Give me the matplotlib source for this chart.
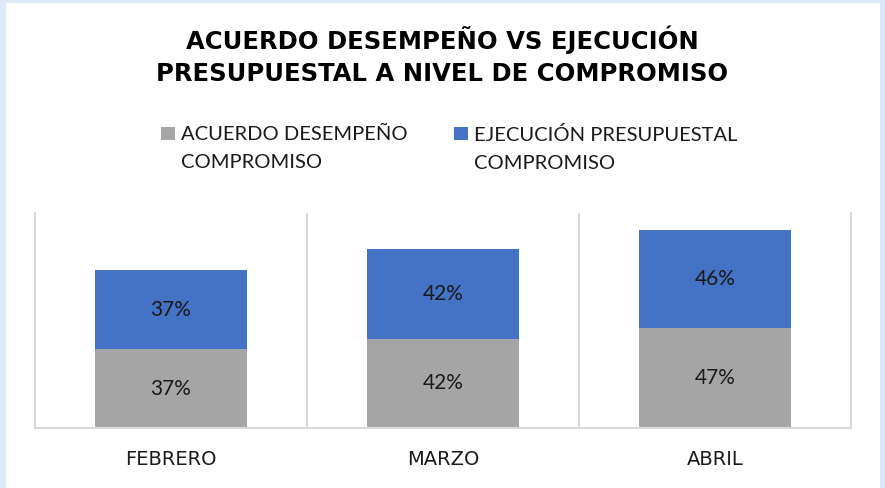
import numpy as np
import matplotlib.pyplot as plt
from matplotlib.patches import Rectangle

plt.rcParams['font.family'] = ['Lato', 'DejaVu Sans']

meses = ['FEBRERO', 'MARZO', 'ABRIL']
acuerdo = [37, 42, 47]
ejecucion = [37, 42, 46]
series_labels = ['ACUERDO DESEMPEÑO\nCOMPROMISO', 'EJECUCIÓN PRESUPUESTAL\nCOMPROMISO']

gris = '#A5A5A5'
azul = '#4472C4'
linea = '#D9D9D9'

fig = plt.figure(figsize=(8.85, 4.88), dpi=100, facecolor='#DDE8F8')
fig.patches.append(Rectangle((6 / 885, 0), 874 / 885, 485 / 488, transform=fig.transFigure,
                             facecolor='white', edgecolor='none', zorder=-10))

ax = fig.add_axes([35 / 885, 1 - 428 / 488, 816 / 885, 215 / 488])
ax.set_facecolor('none')
x = np.arange(len(meses))
ancho = 0.56
b1 = ax.bar(x, acuerdo, ancho, color=gris, label=series_labels[0], zorder=2)
b2 = ax.bar(x, ejecucion, ancho, bottom=acuerdo, color=azul, label=series_labels[1], zorder=2)

for bars, vals, base in [(b1, acuerdo, [0] * 3), (b2, ejecucion, acuerdo)]:
    for bar, v, b in zip(bars, vals, base):
        ax.text(bar.get_x() + bar.get_width() / 2, b + v / 2, f'{v}%',
                ha='center', va='center', fontsize=15, color='#1a1a1a', zorder=3)

ax.set_xlim(-0.5, 2.5)
ax.set_ylim(0, 101)
ax.set_yticks([])
ax.set_xticks(x)
ax.set_xticklabels(meses, fontsize=14, color='#1a1a1a', family='DejaVu Sans')
ax.set_xticks([0.5, 1.5], minor=True)
ax.tick_params(axis='x', which='both', length=0, pad=16)
ax.grid(True, which='minor', axis='x', color=linea, linewidth=1.5, zorder=1)
ax.spines['top'].set_visible(False)
for s in ['left', 'right', 'bottom']:
    ax.spines[s].set_color(linea)
    ax.spines[s].set_linewidth(1.5)

fig.text(0.5, 1 - 40 / 488, 'ACUERDO DESEMPEÑO VS EJECUCIÓN', ha='center', va='center',
         fontsize=17.5, fontweight='bold', color='black', family='DejaVu Sans')
fig.text(0.5, 1 - 74 / 488, 'PRESUPUESTAL A NIVEL DE COMPROMISO', ha='center', va='center',
         fontsize=17.5, fontweight='bold', color='black', family='DejaVu Sans')

# leyenda manual
for lx, color, lab in [(161, gris, series_labels[0]), (454, azul, series_labels[1])]:
    fig.patches.append(Rectangle((lx / 885, 1 - 140 / 488), 14 / 885, 13 / 488,
                                 transform=fig.transFigure, facecolor=color, edgecolor='none'))
    fig.text((lx + 20) / 885, 1 - 126 / 488, lab, ha='left', va='top', fontsize=14.5,
             color='#1a1a1a', linespacing=1.8)

fig.savefig('out.png', dpi=100, facecolor=fig.get_facecolor())
